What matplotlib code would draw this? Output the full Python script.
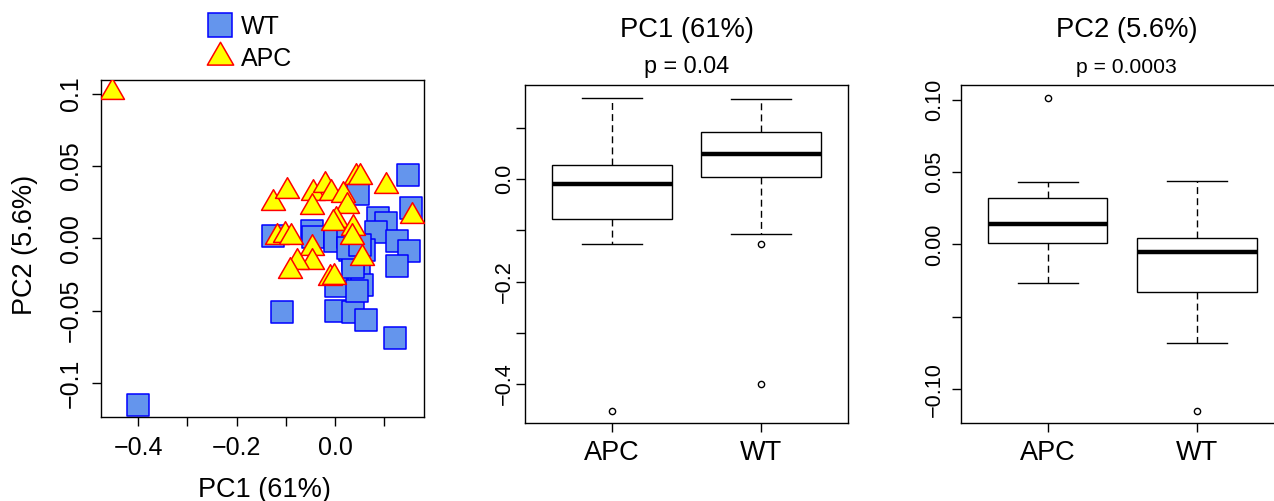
import matplotlib
matplotlib.use('Agg')
import matplotlib.pyplot as plt
from matplotlib import transforms
from matplotlib.path import Path
from matplotlib.lines import Line2D

plt.rcParams['font.family'] = ['Liberation Sans', 'DejaVu Sans']

W, H = 1274, 501

# ---------------- data ----------------
wt_pc1 = [-0.4004, 0.148, 0.154, -0.108, 0.121, 0.002, 0.037, 0.063, -0.1264,
          0.047, 0.088, 0.104, 0.083, 0.127, 0.150, 0.127, 0.048, 0.054, 0.002,
          0.044, -0.047, -0.044, 0.000, 0.027, 0.058, 0.030, 0.037, 0.037,
          0.027, 0.051]
wt_pc2 = [-0.1151, 0.0438, 0.0207, -0.0508, -0.0687, -0.0503, -0.0512, -0.0565,
          0.0018, 0.0306, 0.0142, 0.0108, 0.0046, -0.0019, -0.0088, -0.0192,
          -0.0261, -0.0323, -0.0330, -0.0362, 0.0053, 0.0011, -0.0017, 0.0011,
          -0.0081, -0.0081, -0.0150, -0.0196, -0.0069, -0.0046]

apc_pc1 = [-0.4525, -0.127, -0.098, -0.045, -0.020, -0.009, 0.042, 0.051, 0.104,
           0.016, -0.046, 0.025, 0.156, 0.003, -0.005, 0.037, 0.034, -0.117,
           -0.102, -0.089, -0.046, -0.046, -0.078, -0.091, 0.054, -0.010, -0.002]
apc_pc2 = [0.1012, 0.0246, 0.0329, 0.0316, 0.0369, 0.0316, 0.0426, 0.0426, 0.0362,
           0.0300, 0.0214, 0.0223, 0.0154, 0.0127, 0.0104, 0.0069, 0.0011, 0.0011,
           0.0023, 0.0007, -0.0069, -0.0166, -0.0162, -0.0224, -0.0138, -0.0277,
           -0.0265]

groups = ['APC', 'WT']
# box statistics: whislo, q1, med, q3, whishi
pc1_apc_box = [-0.126, -0.0788, -0.0098, 0.0273, 0.158]
pc1_apc_out = [-0.4525]
pc1_wt_box = [-0.1068, 0.0039, 0.0482, 0.0912, 0.156]
pc1_wt_out = [-0.1264, -0.4004]
pc2_apc_box = [-0.0268, 0.0011, 0.0140, 0.0318, 0.0429]
pc2_apc_out = [0.1012]
pc2_wt_box = [-0.0683, -0.0330, -0.0051, 0.0046, 0.0440]
pc2_wt_out = [-0.1151]

pc1_title, pc1_p = 'PC1 (61%)', 'p = 0.04'
pc2_title, pc2_p = 'PC2 (5.6%)', 'p = 0.0003'

MINUS = '\u2212'


def fmt(s):
    return s.replace('-', MINUS)


# ---------------- figure ----------------
fig = plt.figure(figsize=(W / 100, H / 100), dpi=100)


def rect(l, t, r, b):
    return [l / W, 1 - b / H, (r - l) / W, (b - t) / H]


ax1 = fig.add_axes(rect(100.7, 80, 424, 417.3))
ax2 = fig.add_axes(rect(525, 85, 848, 423.3))
ax3 = fig.add_axes(rect(961, 85, 1283.7, 423.3))

for ax in (ax1, ax2, ax3):
    for sp in ax.spines.values():
        sp.set_linewidth(1.0)
        sp.set_color('black')
    ax.tick_params(direction='out', length=6.5, width=1.0, color='black',
                   labelbottom=False, labelleft=False)

# ---------------- scatter ----------------
tri = Path([(0, 1.1547), (-1, -0.57735), (1, -0.57735), (0, 0)],
           [Path.MOVETO, Path.LINETO, Path.LINETO, Path.CLOSEPOLY])
sq_ms, tri_ms = 15.3, 19.9
ax1.scatter(wt_pc1, wt_pc2, marker='s', s=sq_ms ** 2, facecolor='#6495ED',
            edgecolor='#0000FF', linewidths=1.1, zorder=2)
ax1.scatter(apc_pc1, apc_pc2, marker=tri, s=tri_ms ** 2, facecolor='#FFFF00',
            edgecolor='#FF0000', linewidths=1.1, zorder=3)
ax1.set_xlim(-0.4762, 0.1809)
ax1.set_ylim(-0.1238, 0.1095)
ax1.set_xticks([-0.4, -0.3, -0.2, -0.1, 0.0, 0.1])
ax1.set_yticks([-0.1, -0.05, 0.0, 0.05, 0.1])

tx1 = transforms.blended_transform_factory(ax1.transData, fig.transFigure)
for v, s in zip([-0.4, -0.2, 0.0], ['-0.4', '-0.2', '0.0']):
    ax1.text(v, 1 - 455 / H, fmt(s), transform=tx1, ha='center', va='baseline',
             fontsize=18)
ty1 = transforms.blended_transform_factory(fig.transFigure, ax1.transData)
for v, s in zip([0.1, 0.05, 0.0, -0.05, -0.1], ['0.1', '0.05', '0.00', '-0.05', '-0.1']):
    ax1.text(78 / W, v, fmt(s), transform=ty1, ha='center', va='baseline',
             rotation=90, rotation_mode='anchor', fontsize=18)
fig.text(264 / W, 1 - 497 / H, 'PC1 (61%)', ha='center', va='baseline', fontsize=19.5)
fig.text(31.7 / W, 1 - 245 / H, 'PC2 (5.6%)', ha='center', va='baseline',
         rotation=90, rotation_mode='anchor', fontsize=19.5)

h_wt = Line2D([], [], marker='s', markersize=sq_ms * 1.1, markerfacecolor='#6495ED',
              markeredgecolor='#0000FF', markeredgewidth=1.1, linestyle='none')
h_apc = Line2D([], [], marker=tri, markersize=tri_ms * 1.1, markerfacecolor='#FFFF00',
               markeredgecolor='#FF0000', markeredgewidth=1.1, linestyle='none')
fig.legend([h_wt, h_apc], ['WT', 'APC'], loc='upper left',
           bbox_to_anchor=(207 / W, 1 - 15 / H), frameon=False, fontsize=18,
           handlelength=1.0, handletextpad=0.35, labelspacing=0.31,
           borderpad=0, borderaxespad=0)


# ---------------- box plots ----------------
def make_stats(box, out, label):
    return dict(whislo=box[0], q1=box[1], med=box[2], q3=box[3], whishi=box[4],
                fliers=out, label=label)


def draw_box(ax, stats, ylim, yticks, ylabels, ybase, title, ptxt, psize, xc):
    ax.bxp(stats, positions=[1, 2], widths=0.8, capwidths=0.4, patch_artist=True,
           boxprops=dict(facecolor='white', edgecolor='black', linewidth=1.0),
           medianprops=dict(color='black', linewidth=3.2, solid_capstyle='butt'),
           whiskerprops=dict(color='black', linewidth=1.0, linestyle=(0, (5, 3))),
           capprops=dict(color='black', linewidth=1.0),
           flierprops=dict(marker='o', markersize=4.5, markerfacecolor='none',
                           markeredgecolor='black', markeredgewidth=1.0))
    ax.set_xlim(0.42, 2.58)
    ax.set_ylim(*ylim)
    ax.set_xticks([1, 2])
    ax.set_xticklabels(['', ''])
    ax.set_yticks(yticks)
    ax.set_yticklabels([''] * len(yticks))
    ax.tick_params(direction='out', length=6.5, width=1.0,
                   labelbottom=False, labelleft=False)
    tx = transforms.blended_transform_factory(ax.transData, fig.transFigure)
    for i, g in enumerate(groups):
        ax.text(i + 1, 1 - 460 / H, g, transform=tx, ha='center', va='baseline',
                fontsize=19.5)
    ty = transforms.blended_transform_factory(fig.transFigure, ax.transData)
    for v, s in ylabels:
        ax.text(ybase / W, v, fmt(s), transform=ty, ha='center', va='baseline',
                rotation=90, rotation_mode='anchor', fontsize=15.6)
    fig.text(xc / W, 1 - 36.7 / H, title, ha='center', va='baseline', fontsize=19.7)
    fig.text(xc / W, 1 - 72.7 / H, ptxt, ha='center', va='baseline', fontsize=psize)


stats1 = [make_stats(pc1_apc_box, pc1_apc_out, 'APC'),
          make_stats(pc1_wt_box, pc1_wt_out, 'WT')]
stats2 = [make_stats(pc2_apc_box, pc2_apc_out, 'APC'),
          make_stats(pc2_wt_box, pc2_wt_out, 'WT')]

draw_box(ax2, stats1, (-0.4766, 0.1836), [0.1, 0.0, -0.1, -0.2, -0.3, -0.4],
         [(0.0, '0.0'), (-0.2, '-0.2'), (-0.4, '-0.4')], 510,
         pc1_title, pc1_p, 16.8, 686.5)
draw_box(ax3, stats2, (-0.1236, 0.1102), [0.10, 0.05, 0.0, -0.05, -0.10],
         [(0.10, '0.10'), (0.05, '0.05'), (0.0, '0.00'), (-0.10, '-0.10')], 940,
         pc2_title, pc2_p, 15.2, 1126.5)

fig.savefig('out.png', dpi=100)
